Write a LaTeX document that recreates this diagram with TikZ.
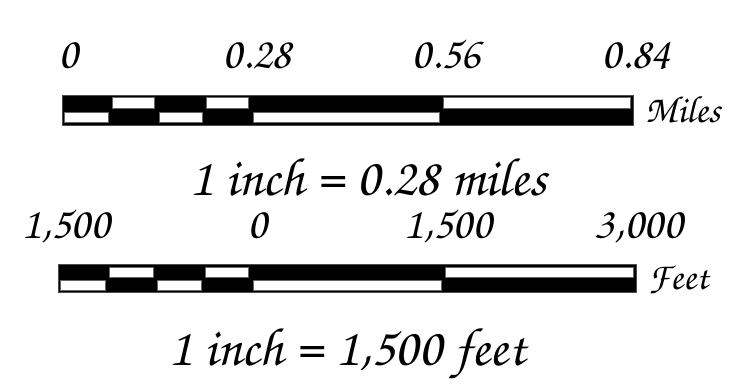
\documentclass[tikz,border=0pt]{standalone}
\usepackage{fontspec}
\setmainfont{TeX Gyre Chorus}
\tikzset{
  lbl/.style={inner sep=0pt, anchor=base, font=\fontsize{45}{45}\selectfont},
  title/.style={inner sep=0pt, anchor=base, font=\fontsize{54}{54}\selectfont},
  unit/.style={inner sep=0pt, anchor=base west, font=\fontsize{38}{38}\selectfont},
  barfill/.style={fill=black, draw=black!70, line width=0.5pt},
  wfill/.style={fill=white, draw=black!60, line width=0.4pt}
}
\begin{document}
\begin{tikzpicture}[x=1pt,y=-1pt]
\useasboundingbox (0,0) rectangle (729,384);
% ---- top scale (miles)
\draw[barfill] (62,95) rectangle (633,125);
% top row whites
\foreach \a/\b in {110/157, 204/251, 441/633} {\draw[wfill] (\a+2,97.5) rectangle (\b-2.5,108.5);}
% bottom row whites
\foreach \a/\b in {62/110, 157/204, 251/441} {\draw[wfill] (\a+2,112) rectangle (\b-2,122);}
\node[lbl] (m0) at (68,68) {0};
\node[lbl] (m1) at (257,68) {0.28};
\node[lbl] (m2) at (446,68) {0.56};
\node[lbl] (m3) at (636,68) {0.84};
\node[unit] (mu) at (645,122) {Miles};
\node[title] (mt) at (368,195) {1 inch = 0.28 miles};
% ---- bottom scale (feet)
\draw[barfill] (58,264) rectangle (636,292);
\foreach \a/\b in {107/155.5, 203.5/251, 443/636} {\draw[wfill] (\a+2,267.5) rectangle (\b-2.5,277);}
\foreach \a/\b in {58/107, 155.5/203.5, 251/443} {\draw[wfill] (\a+2,280) rectangle (\b-2,290);}
\node[lbl] (f0) at (66,238) {1,500};
\node[lbl] (f1) at (257,238) {0};
\node[lbl] (f2) at (448,238) {1,500};
\node[lbl] (f3) at (639,238) {3,000};
\node[unit] (fu) at (648,289) {Feet};
\node[title] (ft) at (347,365) {1 inch = 1,500 feet};
\end{tikzpicture}
\end{document}
